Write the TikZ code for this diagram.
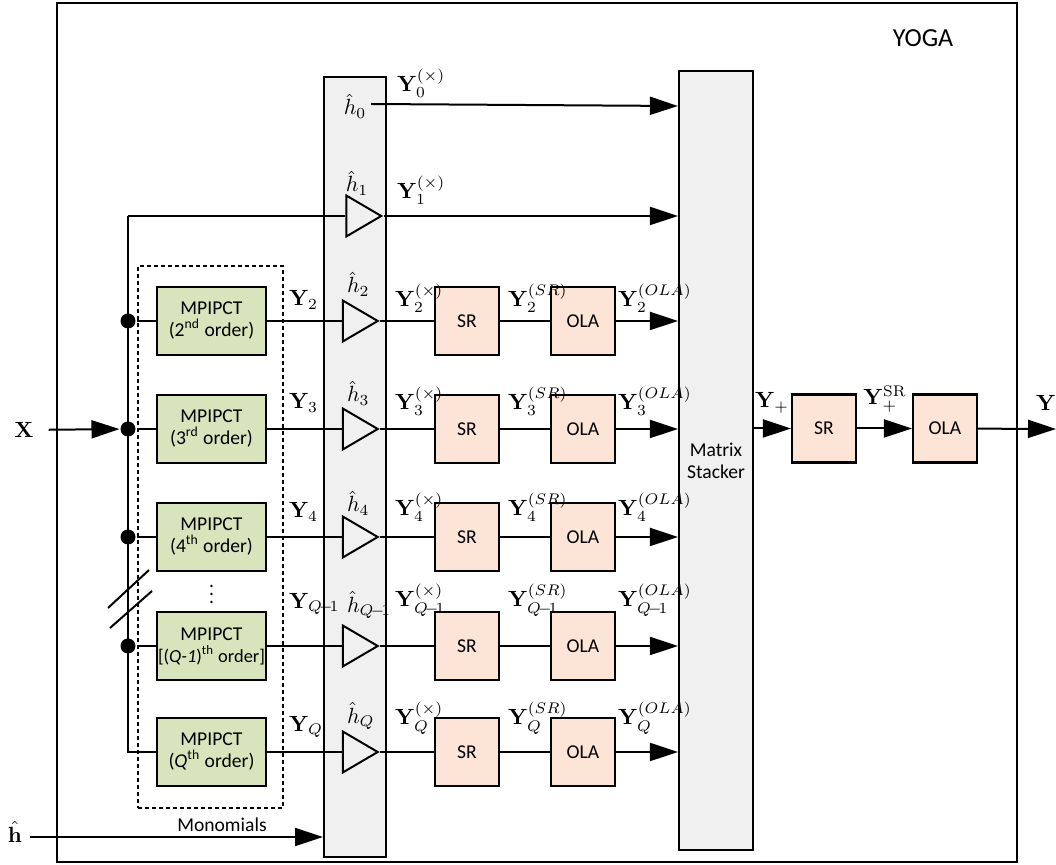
\documentclass[tikz,border=0pt]{standalone}
\usepackage{fix-cm}
\usepackage[no-math]{fontspec}
\setmainfont{Carlito}
\usetikzlibrary{arrows.meta,shapes.geometric}
\definecolor{mpgreen}{RGB}{216,228,188}
\definecolor{srpeach}{RGB}{252,229,214}
\definecolor{colgray}{RGB}{240,240,240}

\begin{document}
\begin{tikzpicture}[x=0.5pt,y=-0.5pt,line width=1pt,
  blk/.style={draw,line width=1.1pt,inner sep=0pt,align=center,
    font=\fontsize{9.8}{11}\selectfont},
  mpbox/.style={blk,fill=mpgreen,minimum width=54.5pt,minimum height=34pt},
  procbox/.style={blk,fill=srpeach,minimum width=32pt,minimum height=34pt},
  amp/.style={draw,fill=colgray,isosceles triangle,isosceles triangle stretches,
    inner sep=0pt,minimum height=17.5pt,minimum width=20.5pt},
  junction/.style={circle,fill=black,inner sep=0pt,minimum size=7.5pt},
  sig/.style={-{Triangle[length=14pt,width=9pt]}},
  lbl/.style={inner sep=0pt,font=\fontsize{11}{13}\selectfont},
  txt/.style={inner sep=0pt,font=\fontsize{9.8}{11}\selectfont},
]
\useasboundingbox (0,0) rectangle (1056,865);

% system frame
\draw (57,3) rectangle (1017,862);
\node[txt,font=\fontsize{13}{15}\selectfont] (yoga) at (923,38) {YOGA};

% multiplier column, matrix stacker, MPIPCT group
\node[draw,fill=colgray,minimum width=31pt,minimum height=390pt,inner sep=0pt] (mult) at (355,467) {};
\node[blk,fill=colgray,minimum width=37pt,minimum height=389.5pt] (stack) at (716,460.5) {Matrix\\Stacker};
\node[draw,line width=1pt,dash pattern=on 2pt off 1.5pt,minimum width=72.5pt,minimum height=271pt,inner sep=0pt] (grp) at (210.5,537) {};

% branch 0
\node[lbl,inner sep=2pt] (h0) at (355,106) {$\hat h_0$};
\draw[sig] (h0.east |- 0,104) -- (h0.east -| stack.west) coordinate (s0);
\node[lbl,anchor=west] (y0x) at (396,83) {$\mathbf{Y}_0^{(\times)}$};

% branch 1
\node[amp] (amp1) at (358,216) {};
\coordinate (busT) at (128,216);
\coordinate (busB) at (128,752);
\draw (busT) -- (amp1);
\draw[sig] (amp1) -- (amp1 -| stack.west);
\node[lbl] (h1) at (357,183) {$\hat h_1$};
\node[lbl,anchor=west] (y1x) at (396,190) {$\mathbf{Y}_1^{(\times)}$};

% branches 2 .. Q
\foreach \id/\y/\s/\ord/\ly/\hy/\ty in {
  2/321/2/{(2\textsuperscript{nd} order)}/300/284/298,
  3/429/3/{(3\textsuperscript{rd} order)}/403/393/401,
  4/537/4/{(4\textsuperscript{th} order)}/512/503/507,
  Qm/646/{Q\!-\!1}/{{\fontsize{9.2}{11}\selectfont[(\textit{Q-1})\textsuperscript{th} order]}}/604/605/600,
  Q/752/Q/{(\textit{Q}\textsuperscript{th} order)}/727/716/718}{
  \node[mpbox] (mp\id) at (211.5,\y) {MPIPCT\\\makebox[0pt]{\ord}};
  \node[amp] (amp\id) at (354.5,\y) {};
  \node[procbox] (sr\id) at (467,\y) {SR};
  \node[procbox] (ola\id) at (583,\y) {OLA};
  \draw (mp\id) -- (amp\id);
  \draw (amp\id) -- (sr\id);
  \draw (sr\id) -- (ola\id);
  \draw[sig] (ola\id) -- (ola\id -| stack.west);
  \node[lbl,anchor=west] (yk\id) at (288,\ly) {$\mathbf{Y}_{\s}$};
  \node[lbl,anchor=west] (hk\id) at (346,\hy) {$\hat h_{\s}$};
  \node[lbl,anchor=west] (yx\id) at (394,\ty) {$\mathbf{Y}_{\s}^{(\times)}$};
  \node[lbl,anchor=west] (ysr\id) at (507,\ty) {$\mathbf{Y}_{\s}^{(SR)}$};
  \node[lbl,anchor=west] (yola\id) at (617,\ty) {$\mathbf{Y}_{\s}^{(OLA)}$};
}
\node[txt] (vdots) at (211.5,588) {$\vdots$};

% input bus with junctions
\draw (busT) -- (busB) -- (mpQ);
\foreach \id/\y in {2/321,3/429,4/537,Qm/646}{
  \node[junction] (d\id) at (128,\y) {};
  \draw (d\id) -- (mp\id);
}
\node[lbl] (X) at (24,430) {$\mathbf{X}$};
\draw[sig,shorten <=7pt] (X) -- (d3);

% break marks on the bus
\draw (108,608) -- (149,570);
\draw (110,628) -- (152,591);

% monomial input
\node[lbl] (hh) at (15,832) {$\hat{\mathbf{h}}$};
\coordinate (hin) at (30,837);
\draw[sig] (hin) -- (hin -| mult.west);
\node[txt] (mono) at (222,825) {Monomials};

% output chain
\node[procbox] (srP) at (824,428.5) {SR};
\node[procbox] (olaP) at (945,428.5) {OLA};
\coordinate (Yout) at (1056,429);
\draw[sig] (stack.east |- srP) -- (srP);
\draw[sig] (srP) -- (olaP);
\draw[sig] (olaP) -- (Yout);
\node[lbl] (yplus) at (772,403) {$\mathbf{Y}_{+}$};
\node[lbl] (yplussr) at (885,399) {$\mathbf{Y}_{+}^{\mathrm{SR}}$};
\node[lbl] (yfinal) at (1046,403) {$\mathbf{Y}$};
\end{tikzpicture}
\end{document}
